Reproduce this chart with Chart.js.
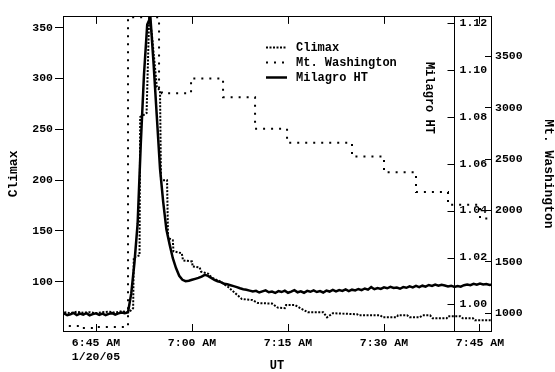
<!DOCTYPE html>
<html>
<head>
<meta charset="utf-8">
<script src="https://cdn.jsdelivr.net/npm/chart.js@4.4.1/dist/chart.umd.min.js"></script>
<style>
  html, body { margin: 0; padding: 0; background: #fff; }
  #wrap { width: 555px; height: 372px; }
</style>
</head>
<body>
<div id="wrap"><canvas id="cosmicChart"></canvas></div>
<script>
// time is in minutes after 6:00 UT, 20 Jan 2005
const xTickValues = [45, 60, 75, 90, 105];
const xTickLabels = [['6:45 AM', '1/20/05'], '7:00 AM', '7:15 AM', '7:30 AM', '7:45 AM'];
const climaxTicks = [100, 150, 200, 250, 300, 350];
const mtWashTicks = [1000, 1500, 2000, 2500, 3000, 3500];
const milagroTicks = [1.00, 1.02, 1.04, 1.06, 1.08, 1.10, 1.12];
const milagroAxisTime = 100.94;

// Climax neutron monitor (left axis)
const climaxTimes = [39.5, 40, 41, 42, 43, 44, 45, 46, 47, 48, 49, 50,
  50.5, 50.8, 50.9, 51.8, 51.9, 52.9, 53.3, 53.7, 54.5, 55.0,
  55.15, 56.1, 56.25, 57.0, 57.1, 58.4, 58.6, 60.0, 60.1, 61.2,
  61.4, 62.5, 63.1, 64.5, 65.6, 66.7, 67.8, 69.4, 70.3, 72.5,
  73.4, 74.5, 74.7, 76.1, 76.9, 78.1, 80.5, 81.1, 82.0, 85.8,
  86.0, 89.4, 89.8, 92.0, 92.2, 93.6, 94.0, 95.6, 96.0, 97.2,
  97.6, 99.8, 100.0, 101.9, 102.3, 103.9, 104.2, 107.0];
const climaxValues = [70, 70, 69, 70.5, 69.5, 70, 69, 70, 70.5, 69.5, 71, 70,
  72, 74, 124, 126, 262, 266, 360, 345, 292, 288,
  200, 200, 143, 141, 130, 128, 121, 120, 115, 114,
  110, 108, 104, 100, 95, 89, 83, 82, 79, 78.5,
  74.5, 74, 77, 77, 74, 70, 70, 65, 69, 68,
  67, 67, 65, 65, 67, 67, 65, 65, 67, 67,
  64, 64, 66, 66, 64, 64, 62, 62];

// Mt. Washington (right axis), stepped
const mtWashTimes = [39.5, 42.5, 45.0, 50.0, 54.85, 55.3, 59.85, 64.85, 69.85, 74.85, 85.0, 90.0, 95.0, 100.0, 105.0, 107.0];
const mtWashValues = [875, 856, 866, 3880, 3188, 3140, 3284, 3102, 2795, 2660, 2526, 2372, 2180, 2056, 1921, 1921];

// Milagro HT (inner axis), one sample every half minute
const milagroStart = 39.5;
const milagroStep = 0.5;
const milagroValues = [
  0.9960, 0.9962, 0.9954, 0.9958, 0.9964, 0.9955, 0.9961, 0.9957, 0.9963, 0.9954,
  0.9959, 0.9962, 0.9956, 0.9961, 0.9955, 0.9960, 0.9963, 0.9957, 0.9962, 0.9966,
  0.9963, 0.9967, 1.0046, 1.0176, 1.0344, 1.0688, 1.0982, 1.1192, 1.1223, 1.1024,
  1.0801, 1.0579, 1.0436, 1.0319, 1.0256, 1.0197, 1.0155, 1.0122, 1.0105, 1.0099,
  1.0101, 1.0105, 1.0109, 1.0113, 1.0119, 1.0126, 1.0122, 1.0113, 1.0105, 1.0099,
  1.0095, 1.0088, 1.0086, 1.0082, 1.0078, 1.0074, 1.0069, 1.0065, 1.0063, 1.0059,
  1.0055, 1.0058, 1.0051, 1.0056, 1.0060, 1.0052, 1.0055, 1.0049, 1.0057, 1.0053,
  1.0059, 1.0050, 1.0055, 1.0061, 1.0052, 1.0056, 1.0050, 1.0058, 1.0054, 1.0060,
  1.0053, 1.0057, 1.0051, 1.0059, 1.0055, 1.0062, 1.0056, 1.0061, 1.0058, 1.0064,
  1.0057, 1.0063, 1.0060, 1.0066, 1.0061, 1.0068, 1.0063, 1.0074, 1.0065, 1.0070,
  1.0066, 1.0073, 1.0069, 1.0075, 1.0070, 1.0072, 1.0067, 1.0074, 1.0071, 1.0077,
  1.0073, 1.0079, 1.0074, 1.0080, 1.0076, 1.0083, 1.0079, 1.0085, 1.0080, 1.0084,
  1.0081, 1.0077, 1.0080, 1.0075, 1.0079, 1.0076, 1.0082, 1.0085, 1.0082, 1.0088,
  1.0084, 1.0089, 1.0085, 1.0087, 1.0083, 1.0086];

const FONT = '"Liberation Mono", "Courier New", monospace';

function pairs(times, values) {
  return values.map((v, i) => ({ x: times[i], y: v }));
}
const milagroPoints = milagroValues.map((v, i) => ({ x: milagroStart + i * milagroStep, y: v }));

function fixTicks(list) {
  return function (scale) { scale.ticks = list.map(v => ({ value: v })); };
}

// inner Milagro axis: vertical line with ticks on the left, labels on the right
const milagroAxis = {
  id: 'milagroAxis',
  afterDatasetsDraw(chart) {
    const ctx = chart.ctx;
    const area = chart.chartArea;
    const ys = chart.scales.yM;
    const px = Math.round(chart.scales.x.getPixelForValue(milagroAxisTime)) + 0.5;
    ctx.save();
    ctx.strokeStyle = '#000';
    ctx.lineWidth = 1;
    ctx.beginPath();
    ctx.moveTo(px, area.top);
    ctx.lineTo(px, area.bottom);
    milagroTicks.forEach(v => {
      const py = Math.round(ys.getPixelForValue(v)) + 0.5;
      ctx.moveTo(px - 7, py);
      ctx.lineTo(px, py);
    });
    ctx.stroke();
    ctx.fillStyle = '#000';
    ctx.font = 'bold 11.5px ' + FONT;
    ctx.textAlign = 'left';
    ctx.textBaseline = 'middle';
    milagroTicks.forEach(v => ctx.fillText(v.toFixed(2), px + 5, ys.getPixelForValue(v)));
    ctx.font = 'bold 12px ' + FONT;
    ctx.translate(px - 25, area.top + 81);
    ctx.rotate(Math.PI / 2);
    ctx.textAlign = 'center';
    ctx.fillText('Milagro HT', 0, 0);
    ctx.restore();
  }
};

// legend drawn inside the plot, top right
const insideLegend = {
  id: 'insideLegend',
  afterDraw(chart) {
    const ctx = chart.ctx;
    ctx.save();
    ctx.font = 'bold 12px ' + FONT;
    ctx.fillStyle = '#000';
    ctx.textAlign = 'left';
    ctx.textBaseline = 'middle';
    chart.data.datasets.forEach((ds, i) => {
      const y = 47.5 + i * 15;
      ctx.beginPath();
      ctx.setLineDash(ds.borderDash || []);
      ctx.lineWidth = ds.borderWidth;
      ctx.strokeStyle = ds.borderColor;
      ctx.moveTo(266, y);
      ctx.lineTo(287, y);
      ctx.stroke();
      ctx.setLineDash([]);
      ctx.fillText(ds.label, 296, y);
    });
    ctx.restore();
  }
};

const tickFont = { family: FONT, size: 11.5, weight: 'bold' };
const titleFont = { family: FONT, size: 13, weight: 'bold', lineHeight: 1 };

new Chart(document.getElementById('cosmicChart'), {
  type: 'line',
  data: {
    datasets: [
      {
        label: 'Climax',
        data: pairs(climaxTimes, climaxValues),
        yAxisID: 'yC',
        borderColor: '#000',
        borderWidth: 2,
        borderDash: [2, 1.5],
        pointRadius: 0,
        fill: false
      },
      {
        label: 'Mt. Washington',
        data: pairs(mtWashTimes, mtWashValues),
        yAxisID: 'yMW',
        borderColor: '#000',
        borderWidth: 2,
        borderDash: [2, 6],
        stepped: true,
        pointRadius: 0,
        fill: false
      },
      {
        label: 'Milagro HT',
        data: milagroPoints,
        yAxisID: 'yM',
        borderColor: '#000',
        borderWidth: 2.5,
        pointRadius: 0,
        fill: false
      }
    ]
  },
  options: {
    responsive: true,
    maintainAspectRatio: false,
    animation: false,
    layout: { padding: 0 },
    plugins: { legend: { display: false }, tooltip: { enabled: false } },
    scales: {
      x: {
        type: 'linear',
        position: 'bottom',
        min: 39.84,
        max: 106.72,
        afterBuildTicks: fixTicks(xTickValues),
        afterFit: s => { s.height = 41; },
        grid: { drawOnChartArea: false, tickLength: -7, color: '#000' },
        border: { color: '#000' },
        ticks: {
          padding: 12,
          maxRotation: 0,
          autoSkip: false,
          color: '#000',
          font: tickFont,
          callback: (v, i) => xTickLabels[i]
        },
        title: { display: true, text: 'UT', color: '#000', font: { family: FONT, size: 12, weight: 'bold', lineHeight: 1 }, padding: 0 }
      },
      xTop: {
        type: 'linear',
        position: 'top',
        min: 39.84,
        max: 106.72,
        afterBuildTicks: fixTicks(xTickValues),
        afterFit: s => { s.height = 12; },
        grid: { drawOnChartArea: false, tickLength: -7, color: '#000' },
        border: { color: '#000' },
        ticks: { display: false }
      },
      yC: {
        type: 'linear',
        position: 'left',
        min: 51.5,
        max: 360.7,
        afterBuildTicks: fixTicks(climaxTicks),
        afterFit: s => { s.width = 63; },
        grid: { drawOnChartArea: false, tickLength: 8, color: '#000' },
        border: { color: '#000' },
        ticks: { padding: 2, color: '#000', font: tickFont, callback: v => String(v) },
        title: { display: true, text: 'Climax', color: '#000', font: titleFont, padding: { top: 7, bottom: 0 } }
      },
      yMW: {
        type: 'linear',
        position: 'right',
        min: 827,
        max: 3884,
        afterBuildTicks: fixTicks(mtWashTicks),
        afterFit: s => { s.width = 64; },
        grid: { drawOnChartArea: false, tickLength: -6, color: '#000' },
        border: { color: '#000' },
        ticks: { padding: 10, color: '#000', font: tickFont, callback: v => String(v) },
        title: { display: true, text: 'Mt. Washington', color: '#000', font: titleFont, padding: { top: 0, bottom: 0 } }
      },
      yM: {
        type: 'linear',
        display: false,
        min: 0.9887,
        max: 1.1225
      }
    }
  },
  plugins: [milagroAxis, insideLegend]
});
</script>
</body>
</html>
